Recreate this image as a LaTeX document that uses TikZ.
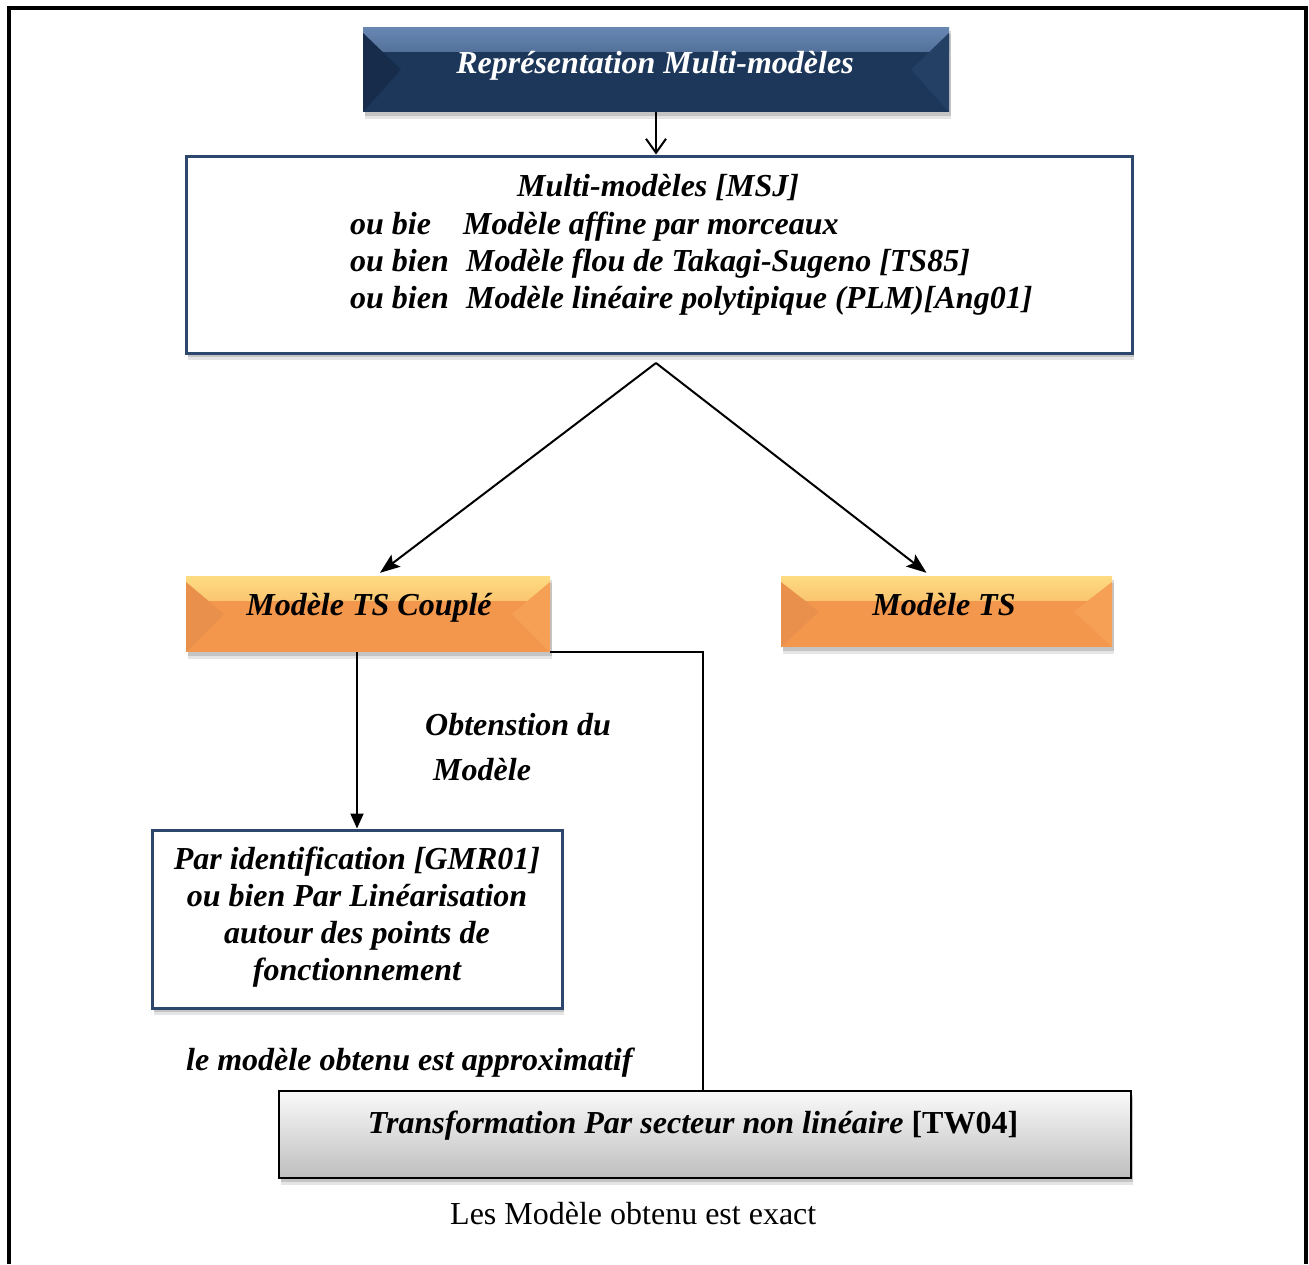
\documentclass[tikz,border=0pt]{standalone}
\usepackage{fontspec}
\setmainfont{Liberation Serif}
\usetikzlibrary{arrows.meta,shadows,calc}

\definecolor{navy}{RGB}{29,55,90}
\definecolor{navylight}{RGB}{104,136,180}
\definecolor{navydark}{RGB}{22,44,74}
\definecolor{navyright}{RGB}{36,64,100}
\definecolor{navyline}{RGB}{44,70,108}
\definecolor{orangemain}{RGB}{243,151,76}
\definecolor{orangetop}{RGB}{254,220,130}
\definecolor{orangeleft}{RGB}{233,145,76}
\definecolor{orangeright}{RGB}{246,160,86}
\definecolor{greytop}{RGB}{250,250,250}
\definecolor{greybot}{RGB}{190,190,190}

\tikzset{
  boxshadow/.style={
    general shadow={shadow xshift=2pt,shadow yshift=-7pt,opacity=0.10,fill=black},
    general shadow={shadow xshift=1.5pt,shadow yshift=-4pt,opacity=0.14,fill=black}},
  bevelbox/.style n args={4}{rectangle, inner sep=0pt, fill=#1, boxshadow,
    path picture={
      \shade[top color=#2, bottom color=#1]
        (path picture bounding box.north west) rectangle
        ([yshift=-24pt]path picture bounding box.north east);
      \fill[#3] ([yshift=-6pt]path picture bounding box.north west)
        -- ($(path picture bounding box.west)+(38,0)$)
        -- (path picture bounding box.south west) -- cycle;
      \fill[#4] ([yshift=-6pt]path picture bounding box.north east)
        -- ($(path picture bounding box.east)+(-38,0)$)
        -- (path picture bounding box.south east) -- cycle;
    }},
  navybox/.style={bevelbox={navy}{navylight}{navydark}{navyright}},
  orangebox/.style={bevelbox={orangemain}{orangetop}{orangeleft}{orangeright}},
  linebox/.style={rectangle, inner sep=0pt, draw=navyline, line width=3pt, fill=white, boxshadow},
  greybox/.style={rectangle, inner sep=0pt, draw=black, line width=2pt,
    top color=greytop, bottom color=greybot, boxshadow},
  lab/.style={font=\fontsize{32}{37}\selectfont\bfseries\itshape, inner sep=0pt},
  plain/.style={font=\fontsize{32}{37}\selectfont, inner sep=0pt},
  conn/.style={draw=black, line width=2pt},
}

\begin{document}
\begin{tikzpicture}[x=1pt,y=-1pt]
\useasboundingbox (0,0) rectangle (1309,1264);
\fill[white] (0,0) rectangle (1309,1264);
\draw[line width=4pt] (9,1264) -- (9,8) -- (1306,8) -- (1306,1264);

% top box
\node[navybox, minimum width=586pt, minimum height=85pt] (top) at (656,69.5) {};
\node[lab, text=white, anchor=base] (toptext) at (655,73) {Représentation Multi-modèles};

% big box
\node[linebox, minimum width=946pt, minimum height=197pt] (big) at (659,254.5) {};
\node[lab, anchor=base west] (l1) at (517,196) {Multi-modèles [MSJ]};
\node[lab, anchor=base west] (l2a) at (350,234) {ou bie};
\node[lab, anchor=base west] (l2b) at (463,234) {Modèle affine par morceaux};
\node[lab, anchor=base west] (l3a) at (350,271) {ou bien};
\node[lab, anchor=base west] (l3b) at (466,271) {Modèle flou de Takagi-Sugeno [TS85]};
\node[lab, anchor=base west] (l4a) at (350,308) {ou bien};
\node[lab, anchor=base west] (l4b) at (466,308) {Modèle linéaire polytipique (PLM)[Ang01]};

\coordinate (apex) at (656,363);

% orange boxes
\node[orangebox, minimum width=364pt, minimum height=76pt] (couple) at (368,614) {};
\node[lab, anchor=base] (coupletext) at (369,615) {Modèle TS Couplé};
\node[orangebox, minimum width=331pt, minimum height=71pt] (ts) at (946.5,611.5) {};
\node[lab, anchor=base] (tstext) at (944,615) {Modèle TS};

% labels
\node[lab, anchor=base west] (obt1) at (425,735) {Obtenstion du};
\node[lab, anchor=base west] (obt2) at (433,780) {Modèle};

% para box
\node[linebox, minimum width=410pt, minimum height=178pt] (para) at (357,919) {};
\node[lab, align=center, anchor=center] (paratext) at (357,917)
  {Par identification [GMR01]\\ou bien Par Linéarisation\\autour des points de\\fonctionnement};

\node[lab, anchor=base west] (approx) at (186,1070) {le modèle obtenu est approximatif};

% transformation box
\node[greybox, minimum width=852pt, minimum height=87pt] (trans) at (705,1134.5) {};
\node[lab, anchor=base] (transtext) at (693,1133)
  {Transformation Par secteur non linéaire {\upshape [TW04]}};

\node[plain, anchor=base west] (exact) at (450,1224) {Les Modèle obtenu est exact};

% connectors
\draw[conn, -{Straight Barb[length=14pt,width=20pt]}] (top.south) -- (top.south |- big.north);
\draw[conn, -{Stealth[length=20pt,width=15pt,inset=4pt]}] (apex) -- ([xshift=12pt,yshift=3pt]couple.north);
\draw[conn, -{Stealth[length=20pt,width=15pt,inset=4pt]}] (apex) -- ([xshift=-20pt,yshift=3pt]ts.north);
\draw[conn, -{Triangle[length=15pt,width=13pt]}] (couple.south -| para.north) -- (para.north);
\coordinate (elbow) at (703,1091);
\coordinate (joint) at (667,1091);
\draw[conn] (couple.south east) -| (elbow) -- (joint);
\end{tikzpicture}
\end{document}
